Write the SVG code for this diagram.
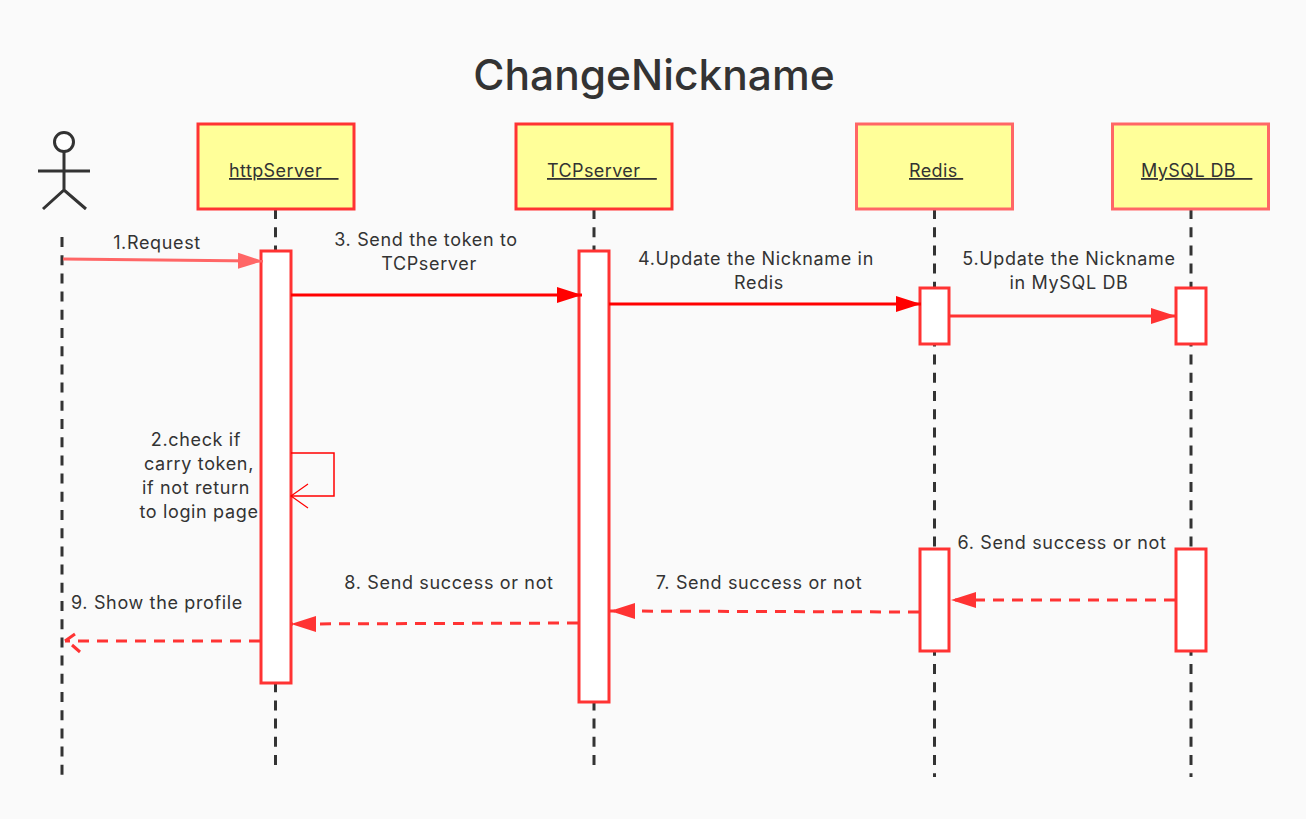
<svg xmlns="http://www.w3.org/2000/svg" width="1306" height="819" viewBox="0 0 1306 819">
<style>
text{font-family:Inter,"Liberation Sans",sans-serif;fill:#333;font-size:18px;text-anchor:middle;letter-spacing:.65px}
.title{font-size:42.500px;font-weight:500;letter-spacing:0}
.nl{text-anchor:start;text-decoration:underline;white-space:pre;letter-spacing:.4px}
.box{fill:#ffff99;stroke-width:3}
.life{fill:none;stroke:#333;stroke-width:3;stroke-dasharray:10 8.200}
.act{fill:#fff;stroke:#ff3333;stroke-width:3}
.c{fill:none;stroke-width:3}
.d{stroke:#ff3333;stroke-dasharray:11 8}
</style>
<defs>
<marker id="hp" markerUnits="userSpaceOnUse" markerWidth="26" markerHeight="18" refX="25" refY="9" orient="auto"><path d="M0 1L25 9L0 17Z" fill="#ff6666"/></marker>
<marker id="hr" markerUnits="userSpaceOnUse" markerWidth="26" markerHeight="18" refX="25" refY="9" orient="auto"><path d="M0 1L25 9L0 17Z" fill="#ff0000"/></marker>
<marker id="hs" markerUnits="userSpaceOnUse" markerWidth="26" markerHeight="18" refX="25" refY="9" orient="auto"><path d="M0 1L25 9L0 17Z" fill="#ff3333"/></marker>
<marker id="oh" markerUnits="userSpaceOnUse" markerWidth="20" markerHeight="28" refX="18" refY="14" orient="auto"><path d="M1 2L18 14L1 26" fill="none" stroke="#ff0000" stroke-width="1.200"/></marker>
<marker id="od" markerUnits="userSpaceOnUse" markerWidth="20" markerHeight="26" refX="18" refY="13" orient="auto"><path d="M8 20L18 13M11 9L3 2" fill="none" stroke="#ff3333" stroke-width="3"/></marker>
</defs>
<rect width="1306" height="819" fill="#fafafa"/>
<text class="title" x="654" y="90">ChangeNickname</text>

<g id="lifelines">
<path class="life" d="M62 237V775"/>
<path class="life" d="M275.500 209V773"/>
<path class="life" d="M594 209V773"/>
<path class="life" d="M934.500 209V777"/>
<path class="life" d="M1191 209V777"/>
</g>

<g id="actor" fill="none" stroke="#333" stroke-width="3">
<circle cx="64" cy="142" r="9.500" fill="#fff"/>
<path d="M64 152V190M38 171H90M43 209L64 190L86 209"/>
</g>
<g id="node-httpServer"><rect class="box" stroke="#ff3333" x="198" y="124" width="156" height="85"/><text class="nl" x="229" y="177">httpServer   </text></g>
<g id="node-TCPserver"><rect class="box" stroke="#ff3333" x="516" y="124" width="156" height="85"/><text class="nl" x="547" y="177">TCPserver   </text></g>
<g id="node-Redis"><rect class="box" stroke="#ff6666" x="856.500" y="124" width="156" height="85"/><text class="nl" x="909" y="177">Redis </text></g>
<g id="node-MySQL"><rect class="box" stroke="#ff6666" x="1112.500" y="124" width="156" height="85"/><text class="nl" x="1141" y="177">MySQL DB   </text></g>

<g id="activations">
<rect class="act" x="261" y="251" width="30" height="432"/>
<rect class="act" x="579" y="251" width="30" height="451"/>
<rect class="act" x="920" y="288" width="29" height="56"/>
<rect class="act" x="1176" y="288" width="30" height="56"/>
<rect class="act" x="920" y="549" width="29" height="102"/>
<rect class="act" x="1176" y="549" width="30" height="102"/>
</g>

<g id="connectors">
<path class="c" stroke="#ff6666" d="M63 259L263 261" marker-end="url(#hp)"/>
<path class="c" stroke="#ff0000" d="M291 295H582" marker-end="url(#hr)"/>
<path class="c" stroke="#ff0000" d="M609 304H921" marker-end="url(#hr)"/>
<path class="c" stroke="#ff3333" d="M950 316H1176" marker-end="url(#hs)"/>
<path fill="none" stroke="#ff0000" stroke-width="1.500" d="M291 453H334V496H291" marker-end="url(#oh)"/>
<path class="c d" d="M1175 600H951" marker-end="url(#hs)"/>
<path class="c d" d="M919 612L610 611" marker-end="url(#hs)"/>
<path class="c d" d="M578 623L291 624" marker-end="url(#hs)"/>
<path class="c d" d="M260 641H65" marker-end="url(#od)"/>
</g>

<g id="labels">
<text x="157" y="249">1.Request</text>
<text x="426" y="246">3. Send the token to</text>
<text x="429" y="270">TCPserver</text>
<text x="756" y="265">4.Update the Nickname in</text>
<text x="759" y="289">Redis</text>
<text x="1069" y="265">5.Update the Nickname</text>
<text x="1069" y="289">in MySQL DB</text>
<text x="196" y="446">2.check if</text>
<text x="199" y="470">carry token,</text>
<text x="196" y="494">if not return</text>
<text x="199" y="518">to login page</text>
<text x="1062" y="549">6. Send success or not</text>
<text x="759" y="589">7. Send success or not</text>
<text x="449" y="589">8. Send success or not</text>
<text x="157" y="609">9. Show the profile</text>
</g>
</svg>
